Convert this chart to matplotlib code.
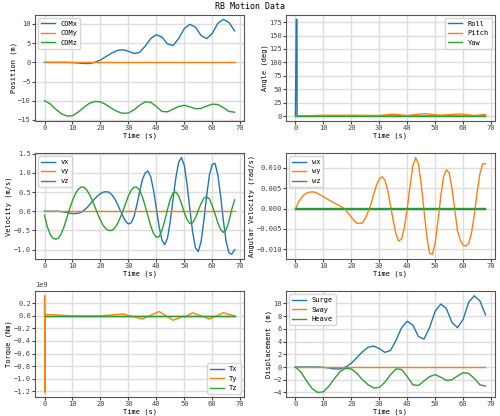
import numpy as np
import matplotlib.pyplot as plt
from matplotlib.ticker import MultipleLocator

plt.rcParams['font.family'] = ['DejaVu Sans Mono']
plt.rcParams['font.size'] = 5

# 位置 (2秒ごと)
t2 = np.arange(0, 69, 2)
com_x = [0, 0, 0, 0, 0, -0.05, -0.15, -0.3, -0.3, 0, 0.6, 1.5, 2.4, 3.1, 3.3, 2.9, 2.3, 2.6,
         4.2, 6.2, 7.2, 6.6, 4.8, 4.4, 6.2, 8.8, 9.9, 9.2, 7.0, 6.2, 7.5, 10.2, 11.2, 10.4, 8.2]
com_y = [0] * 35
com_z = [-10, -10.8, -12.2, -13.4, -14, -13.9, -13, -11.8, -10.7, -10.2, -10.3, -11, -12, -12.8,
         -13.3, -13.2, -12.4, -11.2, -10.3, -10.4, -11.5, -12.8, -12.9, -12.2, -11.5, -11.2,
         -11.6, -12.1, -12.0, -11.4, -10.9, -11.0, -11.8, -12.8, -13]

# 角度
ang_t = [0, 0.3, 0.35, 0.55, 0.6, 10, 20, 30, 35, 40, 46, 52, 59, 64, 68]
roll = [0, 180, 180, 180, 0, 0, 0, 0, 0, 0, 0, 0, 0, 0, 0]
pitch = [0, 0, 0, 0, 0, 1.5, 1.5, 1.0, 3.5, 1.0, 4.5, 1.5, 4.0, 1.0, 3.0]
yaw = [0] * 15

# 速度 (1秒ごと)
t1 = np.arange(0, 69)
vx = [0, 0, 0, 0, 0, 0, -0.01, -0.02, -0.03, -0.05, -0.06, -0.06, -0.05, -0.03, 0.02, 0.08,
      0.16, 0.25, 0.33, 0.4, 0.46, 0.5, 0.51, 0.5, 0.44, 0.34, 0.2, 0.04, -0.12, -0.26, -0.33,
      -0.3, -0.14, 0.15, 0.5, 0.82, 1.0, 1.05, 0.9, 0.55, 0.08, -0.4, -0.75, -0.87, -0.7, -0.25,
      0.32, 0.88, 1.28, 1.4, 1.2, 0.7, 0.05, -0.55, -0.95, -1.05, -0.8, -0.25, 0.4, 0.95, 1.22,
      1.25, 0.95, 0.4, -0.25, -0.8, -1.08, -1.12, -1.0]
vy = [0] * 69
vz = [-0.1, -0.4, -0.6, -0.7, -0.73, -0.7, -0.58, -0.4, -0.17, 0.07, 0.28, 0.45, 0.57, 0.63,
      0.63, 0.57, 0.45, 0.3, 0.12, -0.06, -0.23, -0.37, -0.46, -0.5, -0.5, -0.45, -0.34, -0.18,
      0.0, 0.2, 0.4, 0.55, 0.63, 0.63, 0.55, 0.38, 0.14, -0.12, -0.38, -0.58, -0.68, -0.66,
      -0.5, -0.25, 0.05, 0.32, 0.48, 0.5, 0.4, 0.2, -0.03, -0.22, -0.32, -0.3, -0.17, 0.02,
      0.2, 0.34, 0.38, 0.32, 0.15, -0.07, -0.3, -0.47, -0.55, -0.48, -0.25, 0.05, 0.3]

# 角速度
wx = [0] * 69
wy = [-0.0003, 0.0015, 0.0025, 0.0033, 0.0038, 0.004, 0.0041, 0.004, 0.0037, 0.0033, 0.0029,
      0.0025, 0.0021, 0.0017, 0.0013, 0.001, 0.0006, 0.0002, -0.0004, -0.0012, -0.0021, -0.003,
      -0.0036, -0.0036, -0.0035, -0.0024, -0.0008, 0.001, 0.0035, 0.0058, 0.0073, 0.0078, 0.007,
      0.0045, 0.0008, -0.003, -0.0063, -0.008, -0.0074, -0.0045, 0.0, 0.0055, 0.0105, 0.0125,
      0.011, 0.006, -0.0005, -0.0068, -0.011, -0.0112, -0.0085, -0.003, 0.003, 0.0078, 0.0095,
      0.0088, 0.005, -0.0003, -0.0055, -0.0078, -0.009, -0.0092, -0.0085, -0.006, -0.0015,
      0.004, 0.0085, 0.011, 0.011]
wz = [0.0001] * 69

# トルク
tq_t = [0, 0.05, 0.1, 0.15, 2, 10, 20, 28, 35, 41, 46, 50, 50.1, 53, 59, 64, 68]
tx = [0] * 17
ty = [0, 0.32e9, -1.22e9, 0.02e9, 0.02e9, 0, 0, 0.03e9, -0.05e9, 0.07e9, -0.07e9, 0,
      -0.02e9, 0.05e9, -0.05e9, 0.05e9, 0]
tz = [0] * 17

# 変位
surge = com_x
sway = com_y
heave = [z + 10 for z in com_z]

fig, axes = plt.subplots(3, 2, figsize=(5, 4.16), dpi=100)
fig.suptitle('RB Motion Data', fontsize=6, y=0.995)

panels = [
    (axes[0, 0], [(t2, com_x, 'COMx'), (t2, com_y, 'COMy'), (t2, com_z, 'COMz')], 'Position (m)', 'upper left', 5),
    (axes[0, 1], [(ang_t, roll, 'Roll'), (ang_t, pitch, 'Pitch'), (ang_t, yaw, 'Yaw')], 'Angle (deg)', 'upper right', 25),
    (axes[1, 0], [(t1, vx, 'vx'), (t1, vy, 'vy'), (t1, vz, 'vz')], 'Velocity (m/s)', 'upper left', 0.5),
    (axes[1, 1], [(t1, wx, 'wx'), (t1, wy, 'wy'), (t1, wz, 'wz')], 'Angular Velocity (rad/s)', 'upper left', 0.005),
    (axes[2, 0], [(tq_t, tx, 'Tx'), (tq_t, ty, 'Ty'), (tq_t, tz, 'Tz')], 'Torque (Nm)', 'lower right', 0.2e9),
    (axes[2, 1], [(t2, surge, 'Surge'), (t2, sway, 'Sway'), (t2, heave, 'Heave')], 'Displacement (m)', 'upper left', 2),
]

for ax, series, ylabel, loc, step in panels:
    for x, y, lab in series:
        ax.plot(x, y, label=lab, lw=1)
    ax.set_xlabel('Time (s)', labelpad=1)
    ax.set_ylabel(ylabel, labelpad=1)
    ax.set_xticks(range(0, 71, 10))
    ax.yaxis.set_major_locator(MultipleLocator(step))
    ax.grid(True, color='#dddddd', lw=1)
    ax.tick_params(length=2, pad=1, colors='#444444')
    for s in ax.spines.values():
        s.set_color('#555555')
    ax.legend(loc=loc, fontsize=5)

plt.subplots_adjust(left=0.07, right=0.99, top=0.965, bottom=0.045, hspace=0.3, wspace=0.2)
plt.savefig('out.png')
